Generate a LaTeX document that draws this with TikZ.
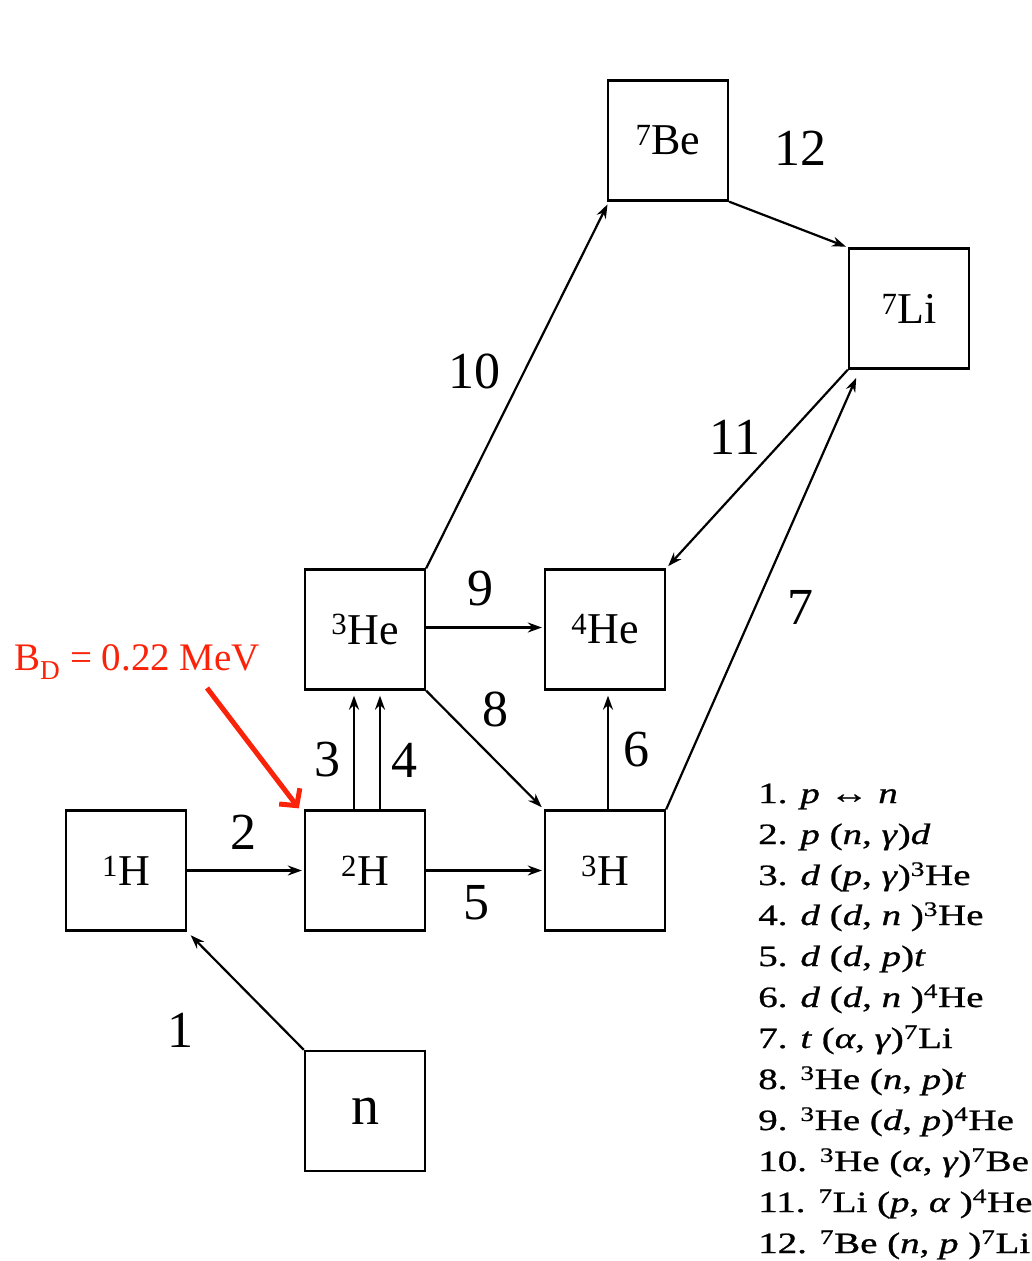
\documentclass[tikz,border=0pt]{standalone}
\usepackage{fontspec}
\setmainfont{Liberation Serif}
\newfontfamily\legfont[FakeBold=0.7]{Liberation Serif}
\usetikzlibrary{arrows.meta}
\definecolor{redann}{RGB}{250,35,10}
\tikzset{
  nuc/.style={draw, line width=2.3pt, minimum width=120pt, minimum height=120pt, inner sep=0pt, font=\fontsize{44}{44}\selectfont},
  conn/.style={line width=2.2pt, -{Stealth[length=14pt,width=10pt]}, shorten >=2pt},
  rlab/.style={font=\fontsize{52}{52}\selectfont, inner sep=0pt},
  leg/.style={anchor=base west, inner sep=0pt, xscale=1.32, font=\legfont\fontsize{29.5}{29.5}\selectfont}
}
\begin{document}
\begin{tikzpicture}[x=1pt,y=-1pt]
\useasboundingbox (0,0) rectangle (1032,1261);
% nuclide boxes
\node[nuc] (be7) at (668,140.5) {\textsuperscript{7}Be};
\node[nuc] (li7) at (909,308.5) {\textsuperscript{7}Li};
\node[nuc] (he3) at (365,629.5) {\textsuperscript{3}He};
\node[nuc] (he4) at (605,629.5) {\textsuperscript{4}He};
\node[nuc] (h1) at (126,870.5) {\textsuperscript{1}H};
\node[nuc] (h2) at (365,870.5) {\textsuperscript{2}H};
\node[nuc] (h3) at (605,870.5) {\textsuperscript{3}H};
\node[nuc, font=\fontsize{56}{56}\selectfont] (n) at (365,1111) {n};
% connectors
\draw[conn, shorten >=5pt] (n.north west) -- (h1.south east);
\draw[conn] (h1.east) -- (h2.west);
\draw[conn, shorten >=5pt] ([xshift=-11pt]h2.north) -- ([xshift=-11pt]he3.south);
\draw[conn, shorten >=5pt] ([xshift=15pt]h2.north) -- ([xshift=15pt]he3.south);
\draw[conn] (h2.east) -- (h3.west);
\draw[conn, shorten >=5pt] ([xshift=3pt]h3.north) -- ([xshift=3pt]he4.south);
\draw[conn, shorten >=9pt] (h3.north east) -- ([xshift=12pt]li7.south west);
\draw[conn, shorten >=3pt] (he3.south east) -- (h3.north west);
\draw[conn] ([yshift=2pt]he3.east) -- ([yshift=2pt]he4.west);
\draw[conn, shorten >=3pt] (he3.north east) -- ([xshift=2pt]be7.south west);
\draw[conn, shorten >=3pt] (li7.south west) -- (he4.north east);
\draw[conn] (be7.south east) -- (li7.north west);
% reaction numbers
\node[rlab] (l1) at (180,1030) {1};
\node[rlab] (l2) at (243,832) {2};
\node[rlab] (l3) at (327,760) {3};
\node[rlab] (l4) at (404,760) {4};
\node[rlab] (l5) at (476,903) {5};
\node[rlab] (l6) at (636,750) {6};
\node[rlab] (l7) at (800,607) {7};
\node[rlab] (l8) at (495,709) {8};
\node[rlab] (l9) at (480,589) {9};
\node[rlab] (l10) at (474,371) {10};
\node[rlab] (l11) at (735,437) {11};
\node[rlab] (l12) at (800,148) {12};
% annotation
\node[anchor=base west, inner sep=0pt, text=redann, font=\fontsize{39}{39}\selectfont] (bd) at (14,670) {B\textsubscript{D} = 0.22 MeV};
\coordinate (bdtail) at (207,688);
\draw[redann, line width=5pt, -{Straight Barb[length=12pt,width=26pt,line width=5pt]}] (bdtail) -- ([shift={(-5pt,1pt)}]h2.north west);
% legend
\node[leg] (r1) at (758,803) {1. \textit{p} ↔ \textit{n}};
\node[leg] (r2) at (758,844) {2. \textit{p} (\textit{n}, \textit{γ})\textit{d}};
\node[leg] (r3) at (758,885) {3. \textit{d} (\textit{p}, \textit{γ})\textsuperscript{3}He};
\node[leg] (r4) at (758,925) {4. \textit{d} (\textit{d}, \textit{n} )\textsuperscript{3}He};
\node[leg] (r5) at (758,966) {5. \textit{d} (\textit{d}, \textit{p})\textit{t}};
\node[leg] (r6) at (758,1007) {6. \textit{d} (\textit{d}, \textit{n} )\textsuperscript{4}He};
\node[leg] (r7) at (758,1048) {7. \textit{t} (\textit{α}, \textit{γ})\textsuperscript{7}Li};
\node[leg] (r8) at (758,1089) {8. \textsuperscript{3}He (\textit{n}, \textit{p})\textit{t}};
\node[leg] (r9) at (758,1130) {9. \textsuperscript{3}He (\textit{d}, \textit{p})\textsuperscript{4}He};
\node[leg] (r10) at (758,1171) {10. \textsuperscript{3}He (\textit{α}, \textit{γ})\textsuperscript{7}Be};
\node[leg] (r11) at (758,1212) {11. \textsuperscript{7}Li (\textit{p}, \textit{α} )\textsuperscript{4}He};
\node[leg] (r12) at (758,1253) {12. \textsuperscript{7}Be (\textit{n}, \textit{p} )\textsuperscript{7}Li};
\end{tikzpicture}
\end{document}
